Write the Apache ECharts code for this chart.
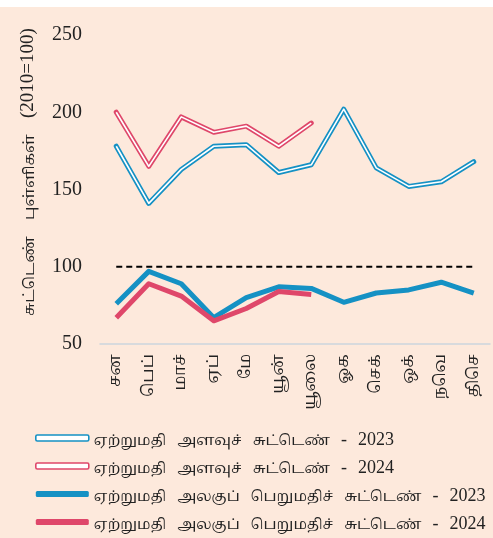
<!DOCTYPE html>
<html>
<head>
<meta charset="utf-8">
<script src="https://cdn.jsdelivr.net/npm/echarts@6/dist/echarts.min.js"></script>
<style>
html,body{margin:0;padding:0;background:#ffffff;}
#chart{position:absolute;left:0;top:0;width:493px;height:538px;}
</style>
</head>
<body>
<div id="chart"></div>
<script>
var months = ['சன','பெப்','மாச்','ஏப்','மே','யூன்','யூலை','ஓக','செக்','ஒக்','நவெ','திசெ'];
var volume2023 = [178, 141, 163, 178, 179, 161, 166, 202, 164, 152, 155, 168];
var volume2024 = [200, 165, 197, 187, 191, 178, 193];
var unitValue2023 = [76, 97, 89, 67, 80, 87, 86, 77, 83, 85, 90, 83];
var unitValue2024 = [67, 89, 81, 65, 73, 84, 82];
var baseLine = [100, 100, 100, 100, 100, 100, 100, 100, 100, 100, 100, 100];
var yTicks = {min: 50, max: 250, interval: 50};
var names = [
  'ஏற்றுமதி அளவுச் சுட்டெண் - 2023',
  'ஏற்றுமதி அளவுச் சுட்டெண் - 2024',
  'ஏற்றுமதி அலகுப் பெறுமதிச் சுட்டெண் - 2023',
  'ஏற்றுமதி அலகுப் பெறுமதிச் சுட்டெண் - 2024'
];
var yName = 'சுட்டெண் புள்ளிகள் (2010=100)';

var BLUE = '#1591C4', RED = '#DF476A';
var FONT = "'Liberation Serif', 'Noto Serif Tamil', 'Noto Sans Tamil', 'Lohit Tamil', serif";

function richify(s) {
  return s.split(' ').map(function (w) {
    return /[\u0B80-\u0BFF]/.test(w) ? '{t|' + w + '}' : '{n|' + w + '}';
  }).join('{g| }');
}

var chart = echarts.init(document.getElementById('chart'));
chart.setOption({
  backgroundColor: '#ffffff',
  animation: false,
  textStyle: {fontFamily: FONT},
  grid: {left: 100, right: 3, top: 35, bottom: 194},
  xAxis: {
    type: 'category',
    data: months,
    boundaryGap: true,
    axisLine: {show: true, lineStyle: {color: '#CBD5DD', width: 1.5}},
    axisTick: {show: false},
    axisLabel: {rotate: 90, margin: 10, fontSize: 16, color: '#222', fontFamily: FONT}
  },
  yAxis: {
    type: 'value',
    min: yTicks.min, max: yTicks.max, interval: yTicks.interval,
    splitLine: {show: false},
    axisLine: {show: false},
    axisTick: {show: false},
    axisLabel: {margin: 18, fontSize: 20, color: '#222', fontFamily: FONT}
  },
  graphic: [{
    type: 'rect', z: -100, silent: true,
    shape: {x: 0, y: 7, width: 493, height: 531},
    style: {fill: '#FDE9DC'}
  }, {
    type: 'text',
    x: 28, y: 172, rotation: Math.PI / 2,
    style: {
      text: richify(yName), fill: '#222', align: 'center', verticalAlign: 'middle',
      rich: {
        t: {fontSize: 15, fontFamily: FONT, fill: '#222', verticalAlign: 'bottom'},
        n: {fontSize: 19, fontFamily: FONT, fill: '#222', verticalAlign: 'bottom'},
        g: {fontSize: 15, width: 16, fontFamily: FONT}
      }
    }
  }],
  legend: {
    orient: 'vertical',
    left: 30, top: 422, height: 200,
    itemWidth: 53, itemHeight: 6, itemGap: 6,
    formatter: function (name) { return richify(name); },
    textStyle: {
      fontSize: 18, lineHeight: 22, color: '#222', fontFamily: FONT,
      rich: {
        t: {fontSize: 14.5, fontFamily: FONT, color: '#222', verticalAlign: 'bottom'},
        n: {fontSize: 18, fontFamily: FONT, color: '#222', verticalAlign: 'bottom'},
        g: {fontSize: 14, width: 11, fontFamily: FONT}
      }
    },
    data: [
      {name: names[0], icon: 'roundRect', itemStyle: {color: '#fff', borderColor: BLUE, borderWidth: 1.6}},
      {name: names[1], icon: 'roundRect', itemStyle: {color: '#fff', borderColor: RED, borderWidth: 1.6}},
      {name: names[2], icon: 'roundRect', itemStyle: {color: BLUE, borderWidth: 0}},
      {name: names[3], icon: 'roundRect', itemStyle: {color: RED, borderWidth: 0}}
    ]
  },
  series: [
    {name: 'base', type: 'line', data: baseLine, symbol: 'none', silent: true,
     lineStyle: {color: '#000', width: 2, type: [6, 4]}, z: 1},
    {name: names[0], type: 'line', data: volume2023, symbol: 'none', color: BLUE,
     lineStyle: {color: BLUE, width: 5, cap: 'round', join: 'round'}},
    {name: 'v23in', type: 'line', data: volume2023, symbol: 'none',
     lineStyle: {color: '#fff', width: 1.6, join: 'round'}},
    {name: names[1], type: 'line', data: volume2024, symbol: 'none', color: RED,
     lineStyle: {color: RED, width: 5, cap: 'round', join: 'round'}},
    {name: 'v24in', type: 'line', data: volume2024, symbol: 'none',
     lineStyle: {color: '#fff', width: 1.6, join: 'round'}},
    {name: names[2], type: 'line', data: unitValue2023, symbol: 'none', color: BLUE,
     lineStyle: {color: BLUE, width: 5, join: 'round'}},
    {name: names[3], type: 'line', data: unitValue2024, symbol: 'none', color: RED,
     lineStyle: {color: RED, width: 5, join: 'round'}}
  ]
});
</script>
</body>
</html>
